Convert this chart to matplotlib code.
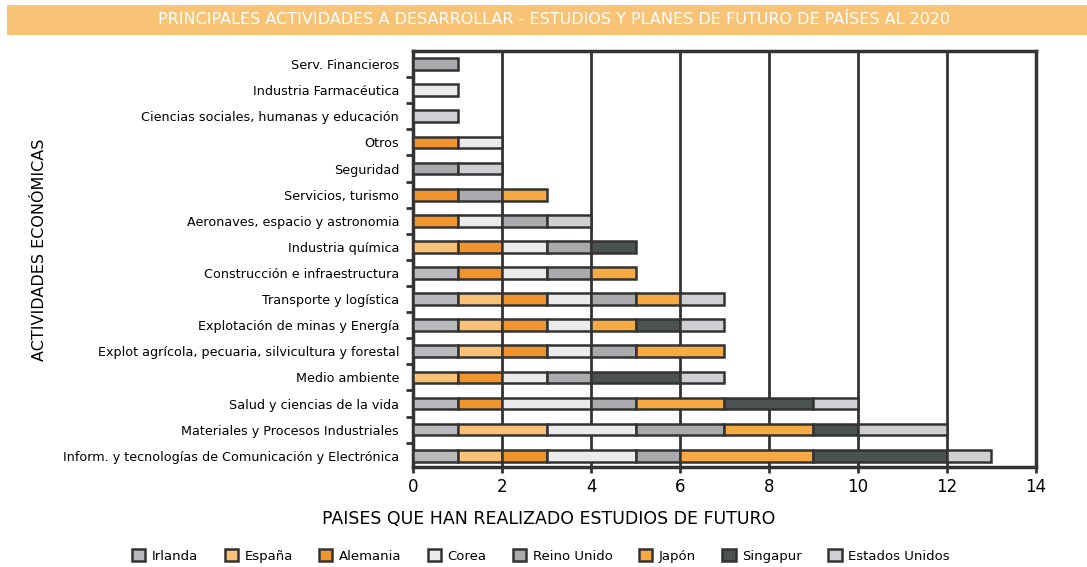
import numpy as np
import matplotlib.pyplot as plt
from matplotlib.patches import Rectangle

# --- data (categories listed top to bottom) ---
categories = [
    "Serv. Financieros",
    "Industria Farmacéutica",
    "Ciencias sociales, humanas y educación",
    "Otros",
    "Seguridad",
    "Servicios, turismo",
    "Aeronaves, espacio y astronomia",
    "Industria química",
    "Construcción e infraestructura",
    "Transporte y logística",
    "Explotación de minas y Energía",
    "Explot agrícola, pecuaria, silvicultura y forestal",
    "Medio ambiente",
    "Salud y ciencias de la vida",
    "Materiales y Procesos Industriales",
    "Inform. y tecnologías de Comunicación y Electrónica",
]

irlanda        = [0, 0, 0, 0, 0, 0, 0, 0, 1, 1, 1, 1, 0, 1, 1, 1]
espana         = [0, 0, 0, 0, 0, 0, 0, 1, 0, 1, 1, 1, 1, 0, 2, 1]
alemania       = [0, 0, 0, 1, 0, 1, 1, 1, 1, 1, 1, 1, 1, 1, 0, 1]
corea          = [0, 1, 0, 1, 0, 0, 1, 1, 1, 1, 1, 1, 1, 2, 2, 2]
reino_unido    = [1, 0, 0, 0, 1, 1, 1, 1, 1, 1, 0, 1, 1, 1, 2, 1]
japon          = [0, 0, 0, 0, 0, 1, 0, 0, 1, 1, 1, 2, 0, 2, 2, 3]
singapur       = [0, 0, 0, 0, 0, 0, 0, 1, 0, 0, 1, 0, 2, 2, 1, 3]
estados_unidos = [0, 0, 1, 0, 1, 0, 1, 0, 0, 1, 1, 0, 1, 1, 2, 1]

series_names = ["Irlanda", "España", "Alemania", "Corea", "Reino Unido",
                "Japón", "Singapur", "Estados Unidos"]
series_values = [irlanda, espana, alemania, corea, reino_unido,
                 japon, singapur, estados_unidos]
colors = ["#B9BABD", "#F8C176", "#F0942E", "#EBEBEB", "#A9AAAD",
          "#F7AA42", "#4B5352", "#CFD0D3"]

x_ticks = list(range(0, 15, 2))

title = "PRINCIPALES ACTIVIDADES A DESARROLLAR - ESTUDIOS Y PLANES DE FUTURO DE PAÍSES AL 2020"

plt.rcParams["font.family"] = "DejaVu Sans"
DARK = "#333333"

fig = plt.figure(figsize=(10.87, 5.67), dpi=100)
ax = fig.add_axes([0.380, 0.176, 0.573, 0.734])

# title banner
fig.patches.append(Rectangle((7 / 1087, 1 - 35 / 567), 1080 / 1087, 30 / 567,
                             transform=fig.transFigure, facecolor="#F9C375",
                             edgecolor="none", zorder=0))
fig.text(554 / 1087, 1 - 20 / 567, title, color="white", fontsize=11.5,
         ha="center", va="center")

y = np.arange(len(categories))
left = np.zeros(len(categories))
for name, vals, c in zip(series_names, series_values, colors):
    vals = np.array(vals, dtype=float)
    m = vals > 0
    ax.barh(y[m], vals[m], left=left[m], height=0.45, color=c,
            edgecolor=DARK, linewidth=1.8, label=name, zorder=3)
    left += vals

ax.set_ylim(len(categories) - 0.56, -0.5)
ax.set_xlim(0, 14)
ax.set_yticks(y)
ax.set_yticklabels(categories, fontsize=9.2)
ax.set_yticks(np.arange(len(categories) - 1) + 0.5, minor=True)
ax.tick_params(axis="y", which="major", length=0, pad=10)
ax.tick_params(axis="y", which="minor", length=5, width=2, color=DARK)
ax.set_xticks(x_ticks)
ax.tick_params(axis="x", length=4, width=2, color=DARK, labelsize=12, pad=4)

ax.xaxis.grid(True, color=DARK, linewidth=2)
ax.set_axisbelow(True)
for s in ax.spines.values():
    s.set_color(DARK)
    s.set_linewidth(2.5)

fig.text(549 / 1087, 1 - 519 / 567, "PAISES QUE HAN REALIZADO ESTUDIOS DE FUTURO",
         fontsize=12.5, ha="center", va="center")
fig.text(40 / 1087, 1 - 250 / 567, "ACTIVIDADES ECONÓMICAS", rotation=90,
         fontsize=11.5, ha="center", va="center")

handles, labels = ax.get_legend_handles_labels()
fig.legend(handles, labels, loc="center", bbox_to_anchor=(541 / 1087, 1 - 556 / 567),
           ncol=8, frameon=False, fontsize=9.5, handlelength=1.0,
           handleheight=1.0, columnspacing=2.0, handletextpad=0.5)

fig.savefig("out.png", dpi=100)
